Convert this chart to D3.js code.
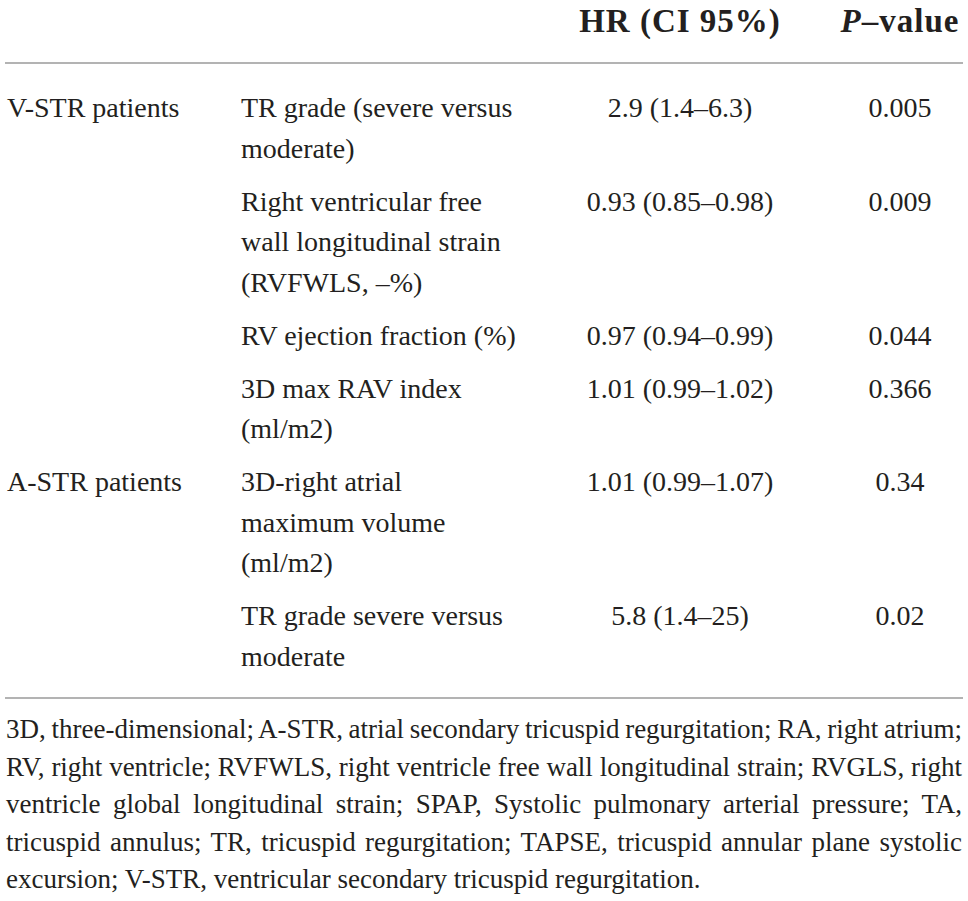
<!DOCTYPE html>
<html>
<head>
<meta charset="utf-8">
<script src="https://cdn.jsdelivr.net/npm/d3@7/dist/d3.min.js"></script>
<style>
  html, body { margin: 0; padding: 0; background: #fff; }
  svg { display: block; }
  text { font-family: "Liberation Serif", "Times New Roman", serif; fill: #231f20; }
</style>
</head>
<body>
<svg id="chart" width="968" height="901"></svg>
<script>
// ---- Data ----
const headers = ["", "", "HR (CI 95%)", "P–value"];
const groups = ["V-STR patients", "", "", "", "A-STR patients", ""];
const variables = [
  ["TR grade (severe versus", "moderate)"],
  ["Right ventricular free", "wall longitudinal strain", "(RVFWLS, –%)"],
  ["RV ejection fraction (%)"],
  ["3D max RAV index", "(ml/m2)"],
  ["3D-right atrial", "maximum volume", "(ml/m2)"],
  ["TR grade severe versus", "moderate"]
];
const hrValues = ["2.9 (1.4–6.3)", "0.93 (0.85–0.98)", "0.97 (0.94–0.99)", "1.01 (0.99–1.02)", "1.01 (0.99–1.07)", "5.8 (1.4–25)"];
const pValues = ["0.005", "0.009", "0.044", "0.366", "0.34", "0.02"];
const footnoteLines = [
  "3D, three-dimensional; A-STR, atrial secondary tricuspid regurgitation; RA, right atrium;",
  "RV, right ventricle; RVFWLS, right ventricle free wall longitudinal strain; RVGLS, right",
  "ventricle global longitudinal strain; SPAP, Systolic pulmonary arterial pressure; TA,",
  "tricuspid annulus; TR, tricuspid regurgitation; TAPSE, tricuspid annular plane systolic",
  "excursion; V-STR, ventricular secondary tricuspid regurgitation."
];

// ---- Layout ----
const svg = d3.select("#chart");
const colX = d3.scaleOrdinal().domain(["group", "variable", "hr", "p"]).range([7, 241, 680, 900]);
const colAnchor = { group: "start", variable: "start", hr: "middle", p: "middle" };
const ruleLeft = 5, ruleRight = 963;
const lineGap = 40.5, rowGap = 53, firstBase = 117;

// compute row baselines
const rowStart = [];
let y = firstBase;
variables.forEach((lines, i) => {
  rowStart.push(y);
  y += (lines.length - 1) * lineGap + rowGap;
});
const rowY = d3.scaleOrdinal().domain(d3.range(variables.length)).range(rowStart);

// header
const hdr = svg.append("g").attr("font-weight", "bold").attr("font-size", 33).attr("letter-spacing", 1);
hdr.append("text").attr("x", colX("hr")).attr("y", 32).attr("text-anchor", "middle").text(headers[2]);
const pt = hdr.append("text").attr("x", colX("p")).attr("y", 32).attr("text-anchor", "middle");
pt.append("tspan").attr("font-style", "italic").text(headers[3].slice(0, 1));
pt.append("tspan").text(headers[3].slice(1));

// rules
svg.append("line").attr("x1", ruleLeft).attr("x2", ruleRight).attr("y1", 63).attr("y2", 63)
  .attr("stroke", "#9a9a9a").attr("stroke-width", 1.6);
svg.append("line").attr("x1", ruleLeft).attr("x2", ruleRight).attr("y1", 698).attr("y2", 698)
  .attr("stroke", "#9a9a9a").attr("stroke-width", 1.6);

// body
const body = svg.append("g").attr("font-size", 28);
const rows = body.selectAll("g.row").data(variables.map((v, i) => ({ i, v }))).join("g").attr("class", "row");

rows.append("text")
  .attr("x", colX("group")).attr("y", d => rowY(d.i)).attr("text-anchor", colAnchor.group)
  .text(d => groups[d.i]);

rows.append("text")
  .attr("x", colX("variable")).attr("y", d => rowY(d.i)).attr("text-anchor", colAnchor.variable)
  .selectAll("tspan").data(d => d.v).join("tspan")
  .attr("x", colX("variable")).attr("dy", (d, j) => j === 0 ? 0 : lineGap)
  .text(d => d);

rows.append("text")
  .attr("x", colX("hr")).attr("y", d => rowY(d.i)).attr("text-anchor", colAnchor.hr)
  .text(d => hrValues[d.i]);

rows.append("text")
  .attr("x", colX("p")).attr("y", d => rowY(d.i)).attr("text-anchor", colAnchor.p)
  .text(d => pValues[d.i]);

// footnote (justified)
const fnBase = 738, fnGap = 37.5, fnLeft = 6, fnRight = 962;
const fn = svg.append("g").attr("font-size", 27);
fn.selectAll("text").data(footnoteLines).join("text")
  .attr("x", fnLeft).attr("y", (d, i) => fnBase + i * fnGap)
  .text(d => d)
  .each(function (d, i) {
    if (i === footnoteLines.length - 1) return;
    const w = this.getComputedTextLength();
    const spaces = (d.match(/ /g) || []).length;
    const extra = (fnRight - fnLeft - w) / spaces;
    d3.select(this).attr("word-spacing", extra);
  });
</script>
</body>
</html>
